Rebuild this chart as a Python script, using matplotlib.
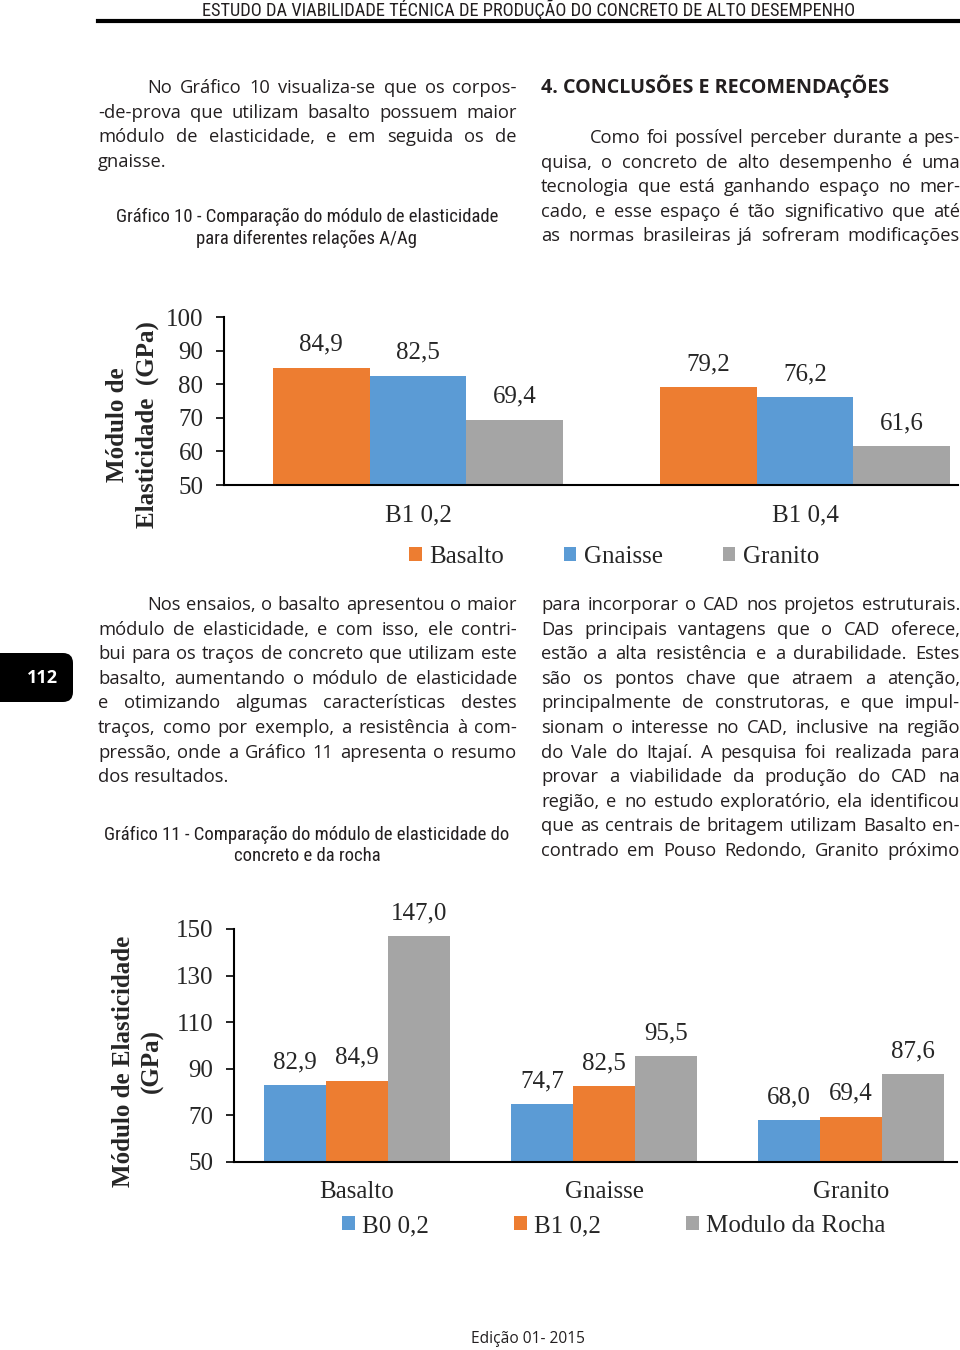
import numpy as np
import matplotlib
matplotlib.use('Agg')
import matplotlib.pyplot as plt
from matplotlib import font_manager as fm
from matplotlib.patches import Patch, FancyBboxPatch
from matplotlib.lines import Line2D

# ---------------- data ----------------
cats1 = ['B1 0,2', 'B1 0,4']
basalto1 = [84.9, 79.2]
gnaisse1 = [82.5, 76.2]
granito1 = [69.4, 61.6]
legend1 = ['Basalto', 'Gnaisse', 'Granito']
yticks1 = [50, 60, 70, 80, 90, 100]

cats2 = ['Basalto', 'Gnaisse', 'Granito']
b0_02 = [82.9, 74.7, 68.0]
b1_02 = [84.9, 82.5, 69.4]
rocha = [147.0, 95.5, 87.6]
legend2 = ['B0 0,2', 'B1 0,2', 'Modulo da Rocha']
yticks2 = [50, 70, 90, 110, 130, 150]

header = 'ESTUDO DA VIABILIDADE TÉCNICA DE PRODUÇÃO DO CONCRETO DE ALTO DESEMPENHO'
para_l1 = ['No Gráfico 10 visualiza-se que os corpos-',
           '-de-prova que utilizam basalto possuem maior',
           'módulo de elasticidade, e em seguida os de',
           'gnaisse.']
cap1 = ['Gráfico 10 - Comparação do módulo de elasticidade',
        'para diferentes relações A/Ag']
heading = '4. CONCLUSÕES E RECOMENDAÇÕES'
para_r1 = ['Como foi possível perceber durante a pes-',
           'quisa, o concreto de alto desempenho é uma',
           'tecnologia que está ganhando espaço no mer-',
           'cado, e esse espaço é tão significativo que até',
           'as normas brasileiras já sofreram modificações']
para_l2 = ['Nos ensaios, o basalto apresentou o maior',
           'módulo de elasticidade, e com isso, ele contri-',
           'bui para os traços de concreto que utilizam este',
           'basalto, aumentando o módulo de elasticidade',
           'e otimizando algumas características destes',
           'traços, como por exemplo, a resistência à com-',
           'pressão, onde a Gráfico 11 apresenta o resumo',
           'dos resultados.']
cap2 = ['Gráfico 11 - Comparação do módulo de elasticidade do',
        'concreto e da rocha']
para_r2 = ['para incorporar o CAD nos projetos estruturais.',
           'Das principais vantagens que o CAD oferece,',
           'estão a alta resistência e a durabilidade. Estes',
           'são os pontos chave que atraem a atenção,',
           'principalmente de construtoras, e que impul-',
           'sionam o interesse no CAD, inclusive na região',
           'do Vale do Itajaí. A pesquisa foi realizada para',
           'provar a viabilidade da produção do CAD na',
           'região, e no estudo exploratório, ela identificou',
           'que as centrais de britagem utilizam Basalto en-',
           'contrado em Pouso Redondo, Granito próximo']
footer = 'Edição 01- 2015'
page_no = '112'

# ---------------- style ----------------
ORANGE = '#ED7D31'
BLUE = '#5B9BD5'
GRAY = '#A5A5A5'
TXT = '#231f20'
CTXT = '#262626'

def has_regular(name):
    for f in fm.fontManager.ttflist:
        if f.name == name and f.style == 'normal':
            w = f.weight
            if isinstance(w, str):
                w = {'normal': 400, 'regular': 400, 'book': 400, 'medium': 500}.get(w.lower(), 0)
            if 350 <= w <= 500:
                return True
    return False

def pick(cands, default):
    for c in cands:
        if has_regular(c):
            return c
    return default

BODY = pick(['Open Sans', 'Noto Sans', 'Lato'], 'DejaVu Sans')
COND = pick(['Roboto Condensed', 'Liberation Sans Narrow', 'Open Sans Condensed',
             'Noto Sans Condensed'], BODY)
SERIF = pick(['Liberation Serif', 'DejaVu Serif'], 'serif')

W, H = 960, 1350
fig = plt.figure(figsize=(9.6, 13.5), dpi=100)
fig.patch.set_facecolor('white')
R = fig.canvas.get_renderer()

def fx(x):
    return x / W

def fy(y):
    return 1 - y / H

def width(s, size, weight='normal', family=BODY):
    t = fig.text(0, 0, s, fontsize=size, fontweight=weight, family=family)
    w = t.get_window_extent(renderer=R).width
    t.remove()
    return w

def put_line(s, x0, x1, yb, size=12, justify=True, weight='normal', family=BODY):
    words = s.split()
    sp = width('n n', size, weight, family) - width('nn', size, weight, family)
    while True:
        ws = [width(w_, size, weight, family) for w_ in words]
        if justify and len(words) > 1:
            gap = (x1 - x0 - sum(ws)) / (len(words) - 1)
            if gap < 0.6 * sp and size > 6:
                size *= 0.98
                sp *= 0.98
                continue
        else:
            gap = sp
        break
    x = x0
    for w_, wd in zip(words, ws):
        fig.text(fx(x), fy(yb), w_, fontsize=size, fontweight=weight, family=family,
                 color=TXT, ha='left', va='baseline')
        x += wd + gap

def fit_size(s, target_w, weight='normal', family=BODY, size0=12):
    return size0 * target_w / width(s, size0, weight, family)

# ---------------- header ----------------
hs = min(fit_size(header, 674, family=COND), 13.2)
fig.text(fx(529), fy(16), header, fontsize=hs, family=COND, color=TXT,
         ha='center', va='baseline')
fig.add_artist(Line2D([fx(98), fx(960)], [fy(21), fy(21)], color='black', lw=3.0))

# ---------------- body text ----------------
LS = 24.6
BS = 13.2
def paragraph(lines, x0, x1, y0, indent, last_justified=False, size=BS):
    for i, ln in enumerate(lines):
        xs = x0 + (indent if i == 0 else 0)
        just = True if (i < len(lines) - 1 or last_justified) else False
        put_line(ln, xs, x1, y0 + i * LS, size=size, justify=just)

paragraph(para_l1, 98, 517, 93, 49)
paragraph(para_r1, 541, 960, 143, 49, last_justified=True)
paragraph(para_l2, 98, 517, 610, 49)
paragraph(para_r2, 541, 960, 610, 0, last_justified=True)

hd = fit_size(heading, 348, weight='bold')
fig.text(fx(541), fy(93), heading, fontsize=hd, fontweight='bold', family=BODY,
         color=TXT, ha='left', va='baseline')

cs1 = min(fit_size(cap1[0], 385, family=COND), 13.5)
fig.text(fx(307), fy(222), cap1[0], fontsize=cs1, family=COND, color=TXT, ha='center', va='baseline')
fig.text(fx(307), fy(244), cap1[1], fontsize=cs1, family=COND, color=TXT, ha='center', va='baseline')
cs2 = min(fit_size(cap2[0], 409, family=COND), 13.5)
fig.text(fx(307), fy(840), cap2[0], fontsize=cs2, family=COND, color=TXT, ha='center', va='baseline')
fig.text(fx(307), fy(861), cap2[1], fontsize=cs2, family=COND, color=TXT, ha='center', va='baseline')

fs = fit_size(footer, 113)
fig.text(fx(528), fy(1343), footer, fontsize=fs, family=BODY, color=TXT, ha='center', va='baseline')

# page badge
badge = FancyBboxPatch((-0.3, (H - 702) / 100), 1.03, 0.49,
                       boxstyle='round,pad=0,rounding_size=0.1',
                       transform=fig.dpi_scale_trans, facecolor='black',
                       edgecolor='none')
fig.add_artist(badge)
fig.text(fx(43), fy(678), page_no, fontsize=13, fontweight='bold', family=BODY,
         color='white', ha='center', va='center')

# ---------------- chart helpers ----------------
def fmt(v):
    return f'{v:.1f}'.replace('.', ',')

def style_axes(ax, yticks):
    for s in ['top', 'right']:
        ax.spines[s].set_visible(False)
    for s in ['left', 'bottom']:
        ax.spines[s].set_color('black')
        ax.spines[s].set_linewidth(1.5)
    ax.set_yticks(yticks)
    ax.set_ylim(yticks[0], yticks[-1])
    ax.tick_params(axis='y', length=5.8, width=1.2, direction='out', pad=9,
                   labelsize=18, labelcolor=CTXT)
    ax.tick_params(axis='x', length=0, pad=14, labelsize=18, labelcolor=CTXT)
    for lab in ax.get_yticklabels() + ax.get_xticklabels():
        lab.set_family(SERIF)
    ax.patch.set_alpha(0)

def values(ax, xs, vals):
    for xi, v in zip(xs, vals):
        ax.annotate(fmt(v), (xi, v), xytext=(0, 16.5), textcoords='offset points',
                    ha='center', va='center', fontsize=18, family=SERIF, color=CTXT,
                    annotation_clip=False)

# ---------------- chart 1 ----------------
ax1 = fig.add_axes([fx(224), fy(485), (958 - 224) / W, (485 - 317) / H])
x1 = np.arange(len(cats1))
bw = 0.25
series1 = [(basalto1, ORANGE), (gnaisse1, BLUE), (granito1, GRAY)]
for k, (vals, col) in enumerate(series1):
    xs = x1 + (k - 1) * bw
    ax1.bar(xs, vals, bw, color=col, zorder=2)
    values(ax1, xs, vals)
ax1.set_xlim(-0.501, 1.395)
ax1.set_xticks(x1)
ax1.set_xticklabels(cats1)
style_axes(ax1, yticks1)
ax1.legend([Patch(facecolor=c) for _, c in series1], legend1, loc='center',
           bbox_to_anchor=(fx(614), fy(557)), bbox_transform=fig.transFigure,
           ncol=3, frameon=False, prop={'family': SERIF, 'size': 18},
           handlelength=0.5, handleheight=0.5, handletextpad=0.3,
           columnspacing=2.4, labelcolor=CTXT)
fig.text(fx(118), fy(425), 'Módulo de', rotation=90, ha='center', va='center',
         fontsize=18, fontweight='bold', family=SERIF, color=CTXT)
fig.text(fx(147), fy(425), 'Elasticidade  (GPa)', rotation=90, ha='center', va='center',
         fontsize=18, fontweight='bold', family=SERIF, color=CTXT)

# ---------------- chart 2 ----------------
ax2 = fig.add_axes([fx(234), fy(1162), (957 - 234) / W, (1162 - 929) / H])
x2 = np.arange(len(cats2))
series2 = [(b0_02, BLUE), (b1_02, ORANGE), (rocha, GRAY)]
for k, (vals, col) in enumerate(series2):
    xs = x2 + (k - 1) * bw
    ax2.bar(xs, vals, bw, color=col, zorder=2)
    values(ax2, xs, vals)
ax2.set_xlim(-0.498, 2.429)
ax2.set_xticks(x2)
ax2.set_xticklabels(cats2)
style_axes(ax2, yticks2)
ax2.legend([Patch(facecolor=c) for _, c in series2], legend2, loc='center',
           bbox_to_anchor=(fx(614), fy(1226)), bbox_transform=fig.transFigure,
           ncol=3, frameon=False, prop={'family': SERIF, 'size': 18},
           handlelength=0.5, handleheight=0.5, handletextpad=0.3,
           columnspacing=3.4, labelcolor=CTXT)
fig.text(fx(124), fy(1061), 'Módulo de Elasticidade', rotation=90, ha='center', va='center',
         fontsize=18, fontweight='bold', family=SERIF, color=CTXT)
fig.text(fx(152), fy(1061), '(GPa)', rotation=90, ha='center', va='center',
         fontsize=18, fontweight='bold', family=SERIF, color=CTXT)

fig.savefig('out.png', dpi=100, facecolor='white')
